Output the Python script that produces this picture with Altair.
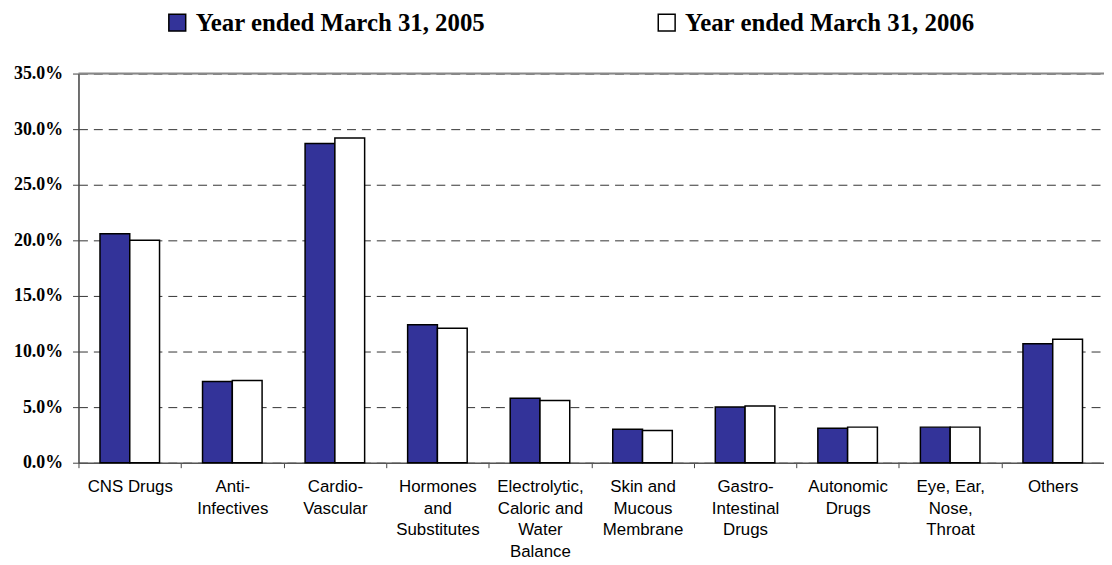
import altair as alt
import pandas as pd

categories = [
    "CNS Drugs",
    "Anti-|Infectives",
    "Cardio-|Vascular",
    "Hormones|and|Substitutes",
    "Electrolytic,|Caloric and|Water|Balance",
    "Skin and|Mucous|Membrane",
    "Gastro-|Intestinal|Drugs",
    "Autonomic|Drugs",
    "Eye, Ear,|Nose,|Throat",
    "Others",
]
series_names = ["Year ended March 31, 2005", "Year ended March 31, 2006"]
values_2005 = [20.6, 7.3, 28.7, 12.4, 5.8, 3.0, 5.0, 3.1, 3.2, 10.7]
values_2006 = [20.0, 7.4, 29.2, 12.1, 5.6, 2.9, 5.1, 3.2, 3.2, 11.1]
series_colors = ["#333399", "#FFFFFF"]
y_ticks = [0.0, 0.05, 0.10, 0.15, 0.20, 0.25, 0.30, 0.35]

rows = []
for c, a, b in zip(categories, values_2005, values_2006):
    rows.append({"category": c, "series": series_names[0], "share": a / 100})
    rows.append({"category": c, "series": series_names[1], "share": b / 100})
df = pd.DataFrame(rows)

bars = alt.Chart(df).mark_bar(stroke="black", strokeWidth=1.5).encode(
    x=alt.X(
        "category:N",
        sort=categories,
        scale=alt.Scale(paddingInner=0, paddingOuter=0),
        axis=alt.Axis(
            title=None,
            labelExpr="split(datum.label, '|')",
            labelFont="Liberation Sans",
            labelFontSize=17,
            labelLineHeight=21.7,
            labelColor="black",
            labelAngle=0,
            labelPadding=11,
            labelOverlap=False,
            tickBand="extent",
            tickSize=5,
            tickColor="#444444",
            domainColor="#555555",
            domainWidth=1.5,
            grid=False,
        ),
    ),
    xOffset=alt.XOffset(
        "series:N",
        sort=series_names,
        scale=alt.Scale(domain=series_names, paddingInner=0, paddingOuter=0.722),
    ),
    y=alt.Y(
        "share:Q",
        scale=alt.Scale(domain=[0, 0.35], nice=False),
        axis=alt.Axis(
            title=None,
            values=y_ticks,
            format=".1%",
            labelFont="Liberation Serif",
            labelFontWeight="bold",
            labelFontSize=18,
            labelColor="black",
            labelPadding=10,
            tickSize=6,
            tickColor="#444444",
            domainColor="#444444",
            domainWidth=1.5,
            grid=True,
            gridColor="#333333",
            gridDash=[9, 6],
            gridWidth=1,
        ),
    ),
    fill=alt.Fill(
        "series:N",
        sort=series_names,
        scale=alt.Scale(domain=series_names, range=series_colors),
        legend=alt.Legend(
            title=None,
            orient="none",
            legendX=87,
            legendY=-64,
            direction="horizontal",
            columnPadding=170,
            symbolType="square",
            symbolSize=289,
            symbolStrokeColor="black",
            symbolStrokeWidth=1.5,
            symbolOffset=0,
            labelOffset=6,
            labelFont="Liberation Serif",
            labelFontWeight="bold",
            labelFontSize=25,
            labelColor="black",
            labelLimit=400,
            padding=0,
        ),
    ),
)

top_line = alt.Chart(pd.DataFrame({"y": [0.35]})).mark_rule(
    color="#888888", strokeWidth=2
).encode(y=alt.Y("y:Q"))

chart = alt.layer(bars, top_line).properties(
    width=1033,
    height=392,
    autosize=alt.AutoSizeParams(type="none"),
    padding={"left": 71, "top": 64, "right": 0, "bottom": 100},
).configure_view(stroke=None).configure(background="white")

chart.save("out.html", embed_options={"renderer": "svg", "actions": False})
